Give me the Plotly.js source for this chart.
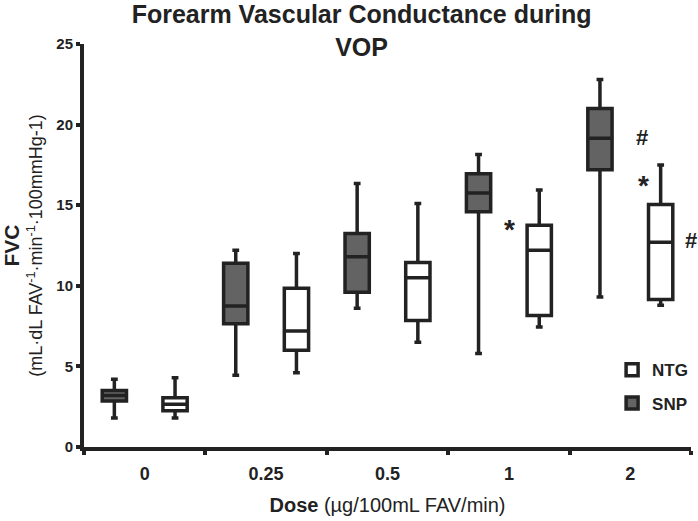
<!DOCTYPE html>
<html>
<head>
<meta charset="utf-8">
<script src="https://cdn.plot.ly/plotly-3.0.1.min.js"></script>
<style>html,body{margin:0;padding:0;background:#fff;}#chart{width:698px;height:521px;}</style>
</head>
<body>
<div id="chart"></div>
<script>
// Dose categories (µg/100mL FAV/min)
var doses = ['0', '0.25', '0.5', '1', '2'];

// SNP box statistics (FVC)
var snpLow    = [1.8, 4.45, 8.6, 5.8, 9.3];
var snpQ1     = [2.85, 7.65, 9.6, 14.6, 17.2];
var snpMedian = [3.2, 8.75, 11.8, 15.75, 19.15];
var snpQ3     = [3.5, 11.4, 13.25, 16.95, 21.0];
var snpHigh   = [4.2, 12.2, 16.35, 18.15, 22.8];

// NTG box statistics (FVC)
var ntgLow    = [1.8, 4.6, 6.5, 7.45, 8.8];
var ntgQ1     = [2.25, 6.0, 7.85, 8.15, 9.15];
var ntgMedian = [2.65, 7.2, 10.5, 12.2, 12.7];
var ntgQ3     = [3.05, 9.85, 11.45, 13.75, 15.05];
var ntgHigh   = [4.3, 12.0, 15.1, 15.95, 17.5];

// significance markers
var markText  = ['*', '#', '*', '#'];
var markDose  = ['1', '2', '2', '2'];
var markValue = [13.5, 19.2, 16.2, 12.8];
var markShift = [1, 12, 13, 61];

var FONT = 'Liberation Sans, Arial, Helvetica, sans-serif';
var INK = '#222222';

var traces = [
  {
    type: 'box', name: 'SNP', x: doses,
    q1: snpQ1, median: snpMedian, q3: snpQ3,
    lowerfence: snpLow, upperfence: snpHigh,
    fillcolor: '#636363', line: {color: INK, width: 3.5},
    whiskerwidth: 0.28, boxpoints: false, legendgroup: 'snp', legendrank: 2
  },
  {
    type: 'box', name: 'NTG', x: doses,
    q1: ntgQ1, median: ntgMedian, q3: ntgQ3,
    lowerfence: ntgLow, upperfence: ntgHigh,
    fillcolor: '#ffffff', line: {color: INK, width: 3.5},
    whiskerwidth: 0.28, boxpoints: false, legendgroup: 'ntg', legendrank: 1
  }
];

var annotations = markText.map(function (t, i) {
  return {
    text: '<b>' + t + '</b>', x: doses.indexOf(markDose[i]), y: markValue[i],
    xref: 'x', yref: 'y', xshift: markShift[i], showarrow: false,
    font: {family: FONT, size: t === '*' ? 28 : 22, color: INK}
  };
});

var layout = {
  width: 698, height: 521,
  margin: {l: 84, r: 5, t: 44, b: 74, pad: 0},
  paper_bgcolor: '#ffffff', plot_bgcolor: '#ffffff',
  font: {family: FONT, color: INK},
  title: {
    text: '<b>Forearm Vascular Conductance during<br>VOP</b>',
    font: {family: FONT, size: 25, color: INK},
    x: 0.518, xref: 'container', xanchor: 'center',
    y: 0.955, yref: 'container', yanchor: 'top'
  },
  boxmode: 'group', boxgap: 0, boxgroupgap: 0.6,
  xaxis: {
    type: 'category', range: [-0.5, 4.5],
    showline: true, linewidth: 4, linecolor: INK,
    ticks: 'outside', tickson: 'boundaries', ticklen: 4, tickwidth: 4, tickcolor: INK,
    ticklabelstandoff: 7,
    showgrid: false, zeroline: false,
    tickfont: {family: FONT, size: 18, color: INK, weight: 'bold'},
    title: {
      text: '<b>Dose</b> (µg/100mL FAV/min)',
      font: {family: FONT, size: 20, color: INK}, standoff: 16
    }
  },
  yaxis: {
    range: [0, 25], tickvals: [0, 5, 10, 15, 20, 25],
    showline: true, linewidth: 4, linecolor: INK,
    ticks: 'outside', ticklen: 4, tickwidth: 4, tickcolor: INK,
    showgrid: false, zeroline: false,
    tickfont: {family: FONT, size: 15, color: INK, weight: 'bold'},
    title: {
      text: '<b><span style="font-size:21px">FVC</span></b><br>(mL·dL FAV<sup>-1</sup>·min<sup>-1</sup>·100mmHg-1)',
      font: {family: FONT, size: 18, color: INK}, standoff: 12
    }
  },
  showlegend: true,
  legend: {
    x: 0.87, y: 0.235, xanchor: 'left', yanchor: 'top',
    traceorder: 'grouped', tracegroupgap: 8,
    bgcolor: 'rgba(0,0,0,0)', borderwidth: 0,
    font: {family: FONT, size: 17, color: INK, weight: 'bold'}
  },
  annotations: annotations
};

Plotly.newPlot('chart', traces, layout, {staticPlot: true, displayModeBar: false});
</script>
</body>
</html>
